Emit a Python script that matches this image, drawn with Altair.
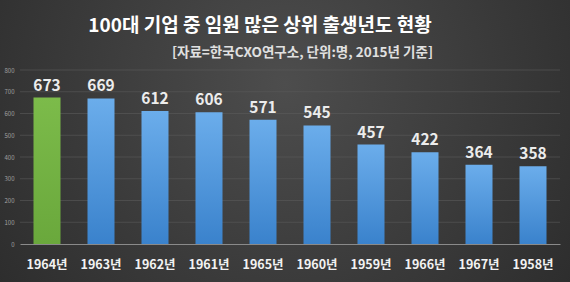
import altair as alt
import pandas as pd

years = ["1964년", "1963년", "1962년", "1961년", "1965년", "1960년", "1959년", "1966년", "1967년", "1958년"]
counts = [673, 669, 612, 606, 571, 545, 457, 422, 364, 358]
highlight = [True, False, False, False, False, False, False, False, False, False]
title_text = "100대 기업 중 임원 많은 상위 출생년도 현황"
subtitle_text = "[자료=한국CXO연구소, 단위:명, 2015년 기준]"
y_ticks = [0, 100, 200, 300, 400, 500, 600, 700, 800]

df = pd.DataFrame({"year": years, "count": counts, "hl": highlight})
grid_df = pd.DataFrame({"count": y_ticks[1:]})

FONT = "Noto Sans CJK KR"
W, H = 540, 174

bg = alt.Chart(pd.DataFrame({"a": [0]})).mark_rect(
    color=alt.RadialGradient(
        gradient="radial", x1=0.5, y1=0.4, r1=0.0, x2=0.5, y2=0.4, r2=0.75,
        stops=[alt.GradientStop(offset=0, color="#4d4d4d"),
               alt.GradientStop(offset=1, color="#262626")]
    )
).encode(x=alt.value(-20), x2=alt.value(550), y=alt.value(-70), y2=alt.value(212))

x_enc = alt.X("year:N", sort=years, scale=alt.Scale(paddingInner=0.5, paddingOuter=0.25),
              axis=alt.Axis(title=None, labelAngle=0, labelFont=FONT, labelFontWeight="bold",
                            labelFontSize=12.5, labelColor="#f2f2f2", labelPadding=14,
                            ticks=False, domain=True, domainColor="#8a8a8a", domainWidth=1,
                            grid=False, zindex=1))
y_scale = alt.Scale(domain=[0, 800], nice=False)
y_axis = alt.Axis(title=None, values=y_ticks, labelFontSize=6, labelColor="#a0a0a0",
                  labelFont=FONT, labelPadding=6, ticks=False, domain=False,
                  grid=False, zindex=1, labelOverlap=False)
y_enc = alt.Y("count:Q", scale=y_scale, axis=y_axis)

grid = alt.Chart(grid_df).mark_rule(color="#5a5a5a", strokeWidth=0.6).encode(y=y_enc)

blue = alt.LinearGradient(gradient="linear", x1=0, y1=0, x2=0, y2=1,
                          stops=[alt.GradientStop(offset=0, color="#6badeb"),
                                 alt.GradientStop(offset=1, color="#3a82cc")])
green = alt.LinearGradient(gradient="linear", x1=0, y1=0, x2=0, y2=1,
                           stops=[alt.GradientStop(offset=0, color="#7cbb4a"),
                                  alt.GradientStop(offset=1, color="#6aa83c")])

base = alt.Chart(df)
bars_blue = base.transform_filter("!datum.hl").mark_bar(color=blue).encode(x=x_enc, y=y_enc)
bars_green = base.transform_filter("datum.hl").mark_bar(color=green).encode(x=x_enc, y=y_enc)
labels = base.mark_text(font=FONT, fontWeight="bold", fontSize=15.5, color="#ececec",
                        baseline="bottom", dy=-4).encode(x=x_enc, y=y_enc, text="count:Q")

title = alt.Chart(pd.DataFrame({"t": [title_text]})).mark_text(
    font=FONT, fontWeight="bold", fontSize=19, color="#ffffff", align="center", baseline="middle"
).encode(x=alt.value(240), y=alt.value(-44), text="t:N")
subtitle = alt.Chart(pd.DataFrame({"t": [subtitle_text]})).mark_text(
    font=FONT, fontWeight="bold", fontSize=13.5, color="#e0e0e0", align="right", baseline="middle"
).encode(x=alt.value(413), y=alt.value(-17), text="t:N")

chart = alt.layer(bg, grid, bars_blue, bars_green, labels, title, subtitle).properties(
    width=W, height=H,
    padding={"left": 20, "top": 70, "right": 10, "bottom": 38},
    autosize=alt.AutoSizeParams(type="none"),
    background="#2b2b2b",
).configure_view(stroke=None)

chart.save("out.html", embed_options={"renderer": "svg", "actions": False})
